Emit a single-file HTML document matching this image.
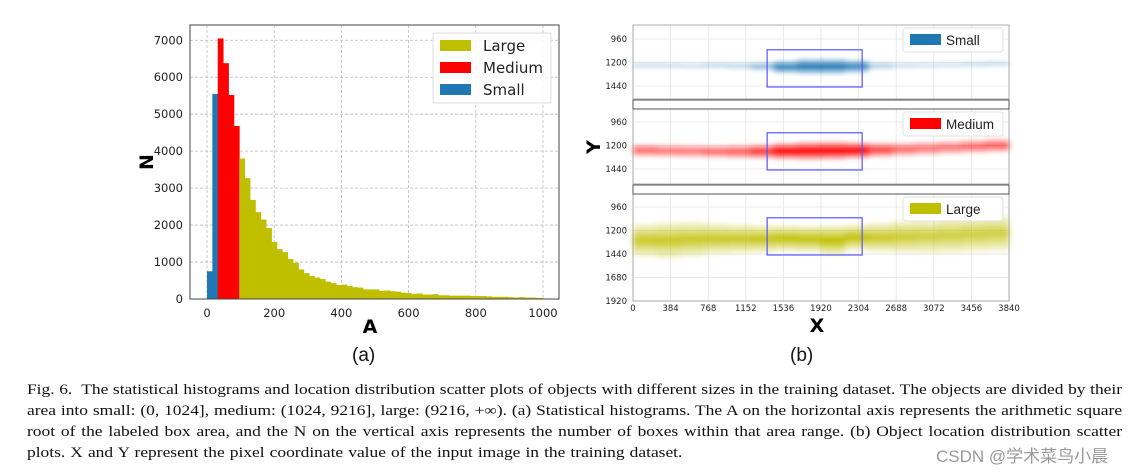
<!DOCTYPE html>
<html><head><meta charset="utf-8">
<style>
body{margin:0;background:#fff;width:1142px;height:475px;overflow:hidden;position:relative;font-family:"Liberation Serif",serif}
#cap{position:absolute;left:27px;top:380px;width:905px;font-size:14.4px;line-height:21px;color:#111;font-family:"Liberation Serif",serif;transform:scaleX(1.21);transform-origin:0 0}
#cap div{text-align:justify;text-align-last:justify;white-space:nowrap;height:21px}
#cap div.last{text-align-last:left;word-spacing:0.6px}
#wm{position:absolute;left:936px;top:442px;font-size:17px;color:#999;font-family:"Liberation Sans","Noto Sans CJK SC",sans-serif}
.sub{position:absolute;top:345px;font-size:19px;font-family:"Liberation Sans",sans-serif;color:#111}
</style></head><body>
<svg id="chart" width="1142" height="475" style="position:absolute;left:0;top:0" font-family="DejaVu Sans, Liberation Sans, sans-serif">
<g id="hist"></g>
<g id="scat"></g>
</svg>
<div class="sub" style="left:352px">(a)</div>
<div class="sub" style="left:790px">(b)</div>
<div id="cap">
<div>Fig. 6.&nbsp; The statistical histograms and location distribution scatter plots of objects with different sizes in the training dataset. The objects are divided by their</div>
<div>area into small: (0, 1024], medium: (1024, 9216], large: (9216, +∞). (a) Statistical histograms. The A on the horizontal axis represents the arithmetic square</div>
<div>root of the labeled box area, and the N on the vertical axis represents the number of boxes within that area range. (b) Object location distribution scatter</div>
<div class="last">plots. X and Y represent the pixel coordinate value of the input image in the training dataset.</div>
</div>
<div id="wm">CSDN @学术菜鸟小晨</div>
<script>
// ---------- Histogram data ----------
const binWidth = 16;
const counts = [750,5550,7050,6380,5520,4680,3800,3270,2680,2350,2150,1920,1540,1350,1270,1080,980,800,700,620,580,540,470,430,380,390,350,320,310,260,260,260,220,230,210,200,170,160,140,150,120,120,130,100,100,90,90,90,90,80,80,80,70,60,60,60,50,40,50,40,40,30,30];
const smallMax = 32, mediumMax = 96;
const xTicks = [0,200,400,600,800,1000];
const yTicks = [0,1000,2000,3000,4000,5000,6000,7000];
const legendLabels = ["Large","Medium","Small"];
const legendColors = ["#bfbf00","#ff0000","#1f77b4"];

// ---------- Scatter data (band model per x-segment) ----------
const segX = [0,240,480,720,960,1200,1440,1680,1920,2160,2400,2640,2880,3120,3360,3600];
const smallCenter = [1230,1230,1235,1230,1235,1240,1245,1240,1240,1240,1235,1230,1230,1225,1220,1215];
const smallSpread = [40,40,40,40,45,55,80,95,95,80,50,40,40,40,40,40];
const smallAlpha = [0.25,0.25,0.25,0.3,0.3,0.5,0.9,1,1,0.9,0.35,0.25,0.2,0.2,0.25,0.25];
const medCenter = [1250,1255,1258,1262,1262,1260,1258,1255,1252,1250,1245,1240,1230,1220,1210,1200];
const medSpread = [80,80,80,80,85,90,100,110,110,100,90,85,85,85,85,85];
const medAlpha = [0.6,0.55,0.55,0.6,0.65,0.8,1,1,1,1,0.75,0.6,0.55,0.55,0.6,0.65];
const lgCenter = [1300,1300,1290,1285,1285,1285,1280,1285,1300,1270,1270,1265,1260,1250,1240,1230];
const lgSpread = [190,210,200,180,170,160,150,150,170,150,170,190,200,210,210,210];
const lgAlpha = [0.85,0.85,0.85,0.85,0.85,0.9,0.95,0.95,1,0.95,0.85,0.8,0.75,0.75,0.75,0.75];
const sxTicks = [0,384,768,1152,1536,1920,2304,2688,3072,3456,3840];

const NS="http://www.w3.org/2000/svg";
function mk(p,t,a){const e=document.createElementNS(NS,t);for(const k in a)e.setAttribute(k,a[k]);p.appendChild(e);return e;}

// ---- histogram ----
const H=document.getElementById('hist');
const hx=v=>207+v*0.336, hy=v=>299-v*0.03696;
let r=mk(H,'rect',{x:190,y:25,width:369,height:274,fill:'#fff',stroke:'#444','stroke-width':1});

xTicks.forEach(t=>{
  let l=mk(H,'line',{x1:hx(t),x2:hx(t),y1:25,y2:299,stroke:'#bbb','stroke-dasharray':'3,2','stroke-width':0.8});
  
  let tx=mk(H,'text',{x:hx(t),y:317,'text-anchor':'middle','font-size':11.5,fill:'#222'});tx.textContent=t;
  
});
yTicks.forEach(t=>{
  let l=mk(H,'line',{x1:190,x2:559,y1:hy(t),y2:hy(t),stroke:'#bbb','stroke-dasharray':'3,2','stroke-width':0.8});
  
  let tx=mk(H,'text',{x:183,y:hy(t)+4,'text-anchor':'end','font-size':11.5,fill:'#222'});tx.textContent=t;
  
});
counts.forEach((c,i)=>{
  const a=i*binWidth, b=Math.min(a+binWidth,1000);
  if(a>=1000)return;
  const col=a<smallMax?legendColors[2]:(a<mediumMax?legendColors[1]:legendColors[0]);
  let bar=mk(H,'rect',{x:hx(a),y:hy(c),width:hx(b)-hx(a)+0.4,height:hy(0)-hy(c),fill:col});
  
});
mk(H,'rect',{x:190,y:25,width:369,height:274,fill:'none',stroke:'#444','stroke-width':1});
let lg=mk(H,'rect',{x:433,y:33,width:118,height:70,rx:3,fill:'#fff','fill-opacity':0.85,stroke:'#ddd'});

legendLabels.forEach((s,i)=>{
  let p=mk(H,'rect',{x:440,y:40+i*22,width:31,height:11,fill:legendColors[i]});
  
  let t=mk(H,'text',{x:483,y:51+i*22,'font-size':15,fill:'#222'});t.textContent=s;
  
});
let ax=mk(H,'text',{x:370,y:333,'text-anchor':'middle','font-size':19,'font-weight':'bold',fill:'#000'});ax.textContent='A';

let ay=mk(H,'text',{x:0,y:0,'text-anchor':'middle','font-size':19,'font-weight':'bold',fill:'#000',transform:'translate(153,162) rotate(-90)'});ay.textContent='N';


// ---- scatter ----
const S=document.getElementById('scat');
const sx=v=>633+v*(376/3840);
const defs=mk(S,'defs',{});
mk(mk(defs,'filter',{id:'blur',x:'-5%',y:'-50%',width:'110%',height:'200%'}),'feGaussianBlur',{stdDeviation:'3 1.5'});
const panels=[
 {name:'small',top:25,bot:99,y960:39,c:smallCenter,s:smallSpread,a:smallAlpha,col:'#1f77b4',lab:'Small',ticks:[960,1200,1440]},
 {name:'medium',top:109,bot:184,y960:122,c:medCenter,s:medSpread,a:medAlpha,col:'#ff0000',lab:'Medium',ticks:[960,1200,1440]},
 {name:'large',top:194,bot:301,y960:207,c:lgCenter,s:lgSpread,a:lgAlpha,col:'#bfbf00',lab:'Large',ticks:[960,1200,1440,1680,1920]}
];
const pxPerY=94/960;
panels.forEach((P,pi)=>{
  const py=v=>P.y960+(v-960)*pxPerY;
  let bg=mk(S,'rect',{x:633,y:P.top,width:376,height:P.bot-P.top,fill:'#fff'});
  
  sxTicks.forEach(t=>{let l=mk(S,'line',{x1:sx(t),x2:sx(t),y1:P.top,y2:P.bot,stroke:'#e4e4e4','stroke-width':0.8});
    });
  P.ticks.forEach(t=>{
    let l=mk(S,'line',{x1:633,x2:1009,y1:py(t),y2:py(t),stroke:'#e4e4e4','stroke-width':0.8});
    
    let tx=mk(S,'text',{x:627,y:py(t)+3,'text-anchor':'end','font-size':8.5,fill:'#222'});tx.textContent=t;
    
  });
  const cg=mk(S,'g',{filter:'url(#blur)'});
  segX.forEach((x0,i)=>{
    const x1=i+1<segX.length?segX[i+1]:3840;
    const id='g'+pi+'_'+i;
    const g=mk(defs,'linearGradient',{id:id,x1:0,y1:0,x2:0,y2:1});
    mk(g,'stop',{offset:'0','stop-color':P.col,'stop-opacity':0});
    mk(g,'stop',{offset:'0.3','stop-color':P.col,'stop-opacity':P.a[i]*0.6});
    mk(g,'stop',{offset:'0.5','stop-color':P.col,'stop-opacity':P.a[i]});
    mk(g,'stop',{offset:'0.7','stop-color':P.col,'stop-opacity':P.a[i]*0.6});
    mk(g,'stop',{offset:'1','stop-color':P.col,'stop-opacity':0});
    const yT=Math.max(py(P.c[i]-P.s[i]),P.top), yB=Math.min(py(P.c[i]+P.s[i]),P.bot);
    let b=mk(cg,'rect',{x:sx(x0),y:yT,width:sx(x1)-sx(x0)+0.3,height:yB-yT,fill:'url(#'+id+')'});
    
  });
  let bx=mk(S,'rect',{x:sx(1370),y:py(1070),width:sx(2340)-sx(1370),height:py(1450)-py(1070),fill:'none',stroke:'#5555ff','stroke-width':1.2});
  
  let fr=mk(S,'rect',{x:633,y:P.top,width:376,height:P.bot-P.top,fill:'none',stroke:'#999','stroke-width':0.8});
  
  const ly=P.top+3;
  let lb=mk(S,'rect',{x:903,y:ly,width:100,height:24,rx:3,fill:'#fff',stroke:'#e0e0e0'});
  
  let sw=mk(S,'rect',{x:910,y:ly+6,width:31,height:11,fill:P.col});
  
  let lt=mk(S,'text',{x:946,y:ly+17,'font-size':13.5,fill:'#222','font-family':'Liberation Sans, sans-serif'});lt.textContent=P.lab;
  
});
[100,185].forEach(y=>{let g=mk(S,'rect',{x:633,y:y,width:376,height:9,fill:'#fff',stroke:'#555','stroke-width':1});
  });
sxTicks.forEach(t=>{let tx=mk(S,'text',{x:sx(t),y:311,'text-anchor':'middle','font-size':8.5,fill:'#222'});tx.textContent=t;
  });
let sxl=mk(S,'text',{x:817,y:332,'text-anchor':'middle','font-size':19,'font-weight':'bold',fill:'#000'});sxl.textContent='X';

let syl=mk(S,'text',{x:0,y:0,'text-anchor':'middle','font-size':19,'font-weight':'bold',fill:'#000',transform:'translate(600,147) rotate(-90)'});syl.textContent='Y';

</script>
</body></html>
